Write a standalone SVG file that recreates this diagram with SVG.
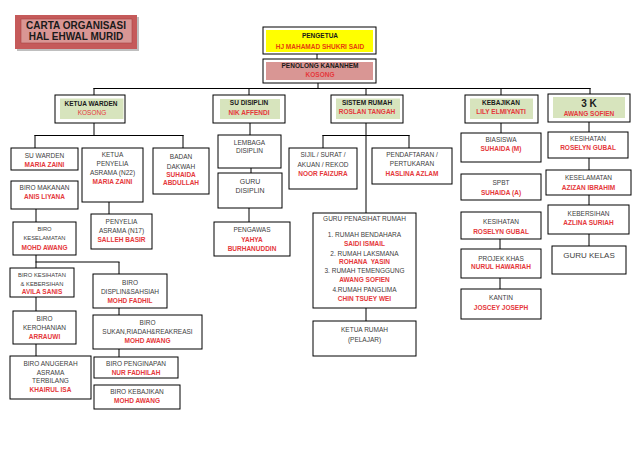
<svg xmlns="http://www.w3.org/2000/svg" width="638" height="451" viewBox="0 0 638 451">
<style>
.b{fill:#fff;stroke:#000;stroke-width:1}
.g{fill:#d7e4bd}
.t{font-family:"Liberation Sans",Arial,sans-serif;font-size:6.5px;fill:#404040;text-anchor:middle}
.s{font-size:5.8px}
.r{font-family:"Liberation Sans",Arial,sans-serif;font-size:6.5px;fill:#e5383b;font-weight:bold;text-anchor:middle}
.h{font-family:"Liberation Sans",Arial,sans-serif;font-size:6.5px;fill:#1a1a1a;font-weight:bold;text-anchor:middle}
.c line{stroke:#000;stroke-width:1}
</style>
<rect width="638" height="451" fill="#fff"/>

<g id="title">
<rect x="17" y="17" width="122" height="34" fill="#bfbfbf"/>
<rect x="15" y="15" width="122" height="34" fill="#c55a5a"/>
<rect x="21" y="19" width="111" height="24" fill="#d99694" stroke="#a84444" stroke-width="0.6"/>
<text x="76" y="28.8" class="h" style="font-size:10px">CARTA ORGANISASI</text>
<text x="76" y="39.8" class="h" style="font-size:10px">HAL EHWAL MURID</text>
</g>

<g class="c" id="connectors">
<line x1="317" y1="54" x2="317" y2="59"/>
<line x1="318" y1="83" x2="318" y2="88.5"/>
<line x1="93.5" y1="88.5" x2="590.5" y2="88.5"/>
<line x1="94" y1="88" x2="94" y2="95"/>
<line x1="249" y1="88" x2="249" y2="95"/>
<line x1="366" y1="88" x2="366" y2="95"/>
<line x1="501" y1="88" x2="501" y2="95"/>
<line x1="590" y1="88" x2="590" y2="94"/>
<line x1="94" y1="123" x2="94" y2="135.5"/>
<line x1="34.5" y1="135.5" x2="183.5" y2="135.5"/>
<line x1="35" y1="135" x2="35" y2="148"/>
<line x1="183" y1="135" x2="183" y2="148"/>
<line x1="36" y1="209" x2="36" y2="222"/>
<line x1="36" y1="255" x2="36" y2="268"/>
<line x1="35.5" y1="262" x2="119.5" y2="262"/>
<line x1="119" y1="262" x2="119" y2="274"/>
<line x1="36" y1="297" x2="36" y2="311"/>
<line x1="36" y1="344" x2="36" y2="356"/>
<line x1="119" y1="308" x2="119" y2="315"/>
<line x1="119" y1="349" x2="119" y2="357"/>
<line x1="109" y1="202" x2="109" y2="214"/>
<line x1="250" y1="123" x2="250" y2="135"/>
<line x1="251" y1="168" x2="251" y2="173"/>
<line x1="249" y1="208" x2="249" y2="222"/>
<line x1="366" y1="123" x2="366" y2="213"/>
<line x1="322.5" y1="135.5" x2="409.5" y2="135.5"/>
<line x1="323" y1="135" x2="323" y2="148"/>
<line x1="409" y1="135" x2="409" y2="148"/>
<line x1="366" y1="308" x2="366" y2="321"/>
<line x1="501" y1="123" x2="501" y2="133"/>
<line x1="500" y1="239" x2="500" y2="249"/>
<line x1="500" y1="278" x2="500" y2="289"/>
<line x1="589" y1="122" x2="589" y2="132"/>
<line x1="589" y1="158" x2="589" y2="170"/>
<line x1="589" y1="195" x2="589" y2="205"/>
<line x1="589" y1="234" x2="589" y2="246"/>
</g>

<g id="pengetua">
<rect class="b" x="263" y="27" width="113" height="27"/>
<rect x="266" y="30" width="107" height="22" fill="#ffff00"/>
<text x="320" y="37.5" class="h">PENGETUA</text>
<text x="320" y="49" class="r" style="fill:#e8400c">HJ MAHAMAD SHUKRI SAID</text>
</g>
<g id="penolong">
<rect class="b" x="263" y="59" width="113" height="24"/>
<rect x="266" y="62" width="107" height="18" fill="#d99694"/>
<text x="320" y="67.6" class="h">PENOLONG KANANHEM</text>
<text x="320" y="76.5" class="r">KOSONG</text>
</g>

<g id="ketua-warden">
<rect class="b" x="55" y="95" width="70" height="28"/>
<rect class="g" x="60" y="98.5" width="63.5" height="20.5"/>
<text x="91" y="105.6" class="h">KETUA WARDEN</text>
<text x="92" y="115" class="r" style="font-weight:normal">KOSONG</text>
</g>
<g id="su-disiplin">
<rect class="b" x="213" y="95" width="72" height="28"/>
<rect class="g" x="220" y="99" width="60" height="20"/>
<text x="249" y="105" class="h">SU DISIPLIN</text>
<text x="249" y="114.6" class="r">NIK AFFENDI</text>
</g>
<g id="sistem-rumah">
<rect class="b" x="331" y="95" width="72" height="28"/>
<rect class="g" x="336" y="98.5" width="64" height="20.5"/>
<text x="367" y="104.6" class="h">SISTEM RUMAH</text>
<text x="367" y="114" class="r">ROSLAN TANGAH</text>
</g>
<g id="kebajikan">
<rect class="b" x="465" y="95" width="73" height="28"/>
<rect class="g" x="470" y="98.5" width="63" height="20.5"/>
<text x="501" y="104.6" class="h">KEBAJIKAN</text>
<text x="501" y="114" class="r">LILY ELMIYANTI</text>
</g>
<g id="tiga-k">
<rect class="b" x="548" y="94" width="82" height="28"/>
<rect class="g" x="553" y="97" width="72" height="21"/>
<text x="589" y="107" class="h" style="font-size:10px">3 K</text>
<text x="589" y="115.6" class="r">AWANG SOFIEN</text>
</g>

<g id="su-warden">
<rect class="b" x="11" y="148" width="67" height="22"/>
<text x="44.5" y="158.3" class="t">SU WARDEN</text>
<text x="44.5" y="166.5" class="r">MARIA ZAINI</text>
</g>
<g id="biro-makanan">
<rect class="b" x="11" y="181" width="67" height="28"/>
<text x="44.5" y="189.5" class="t">BIRO MAKANAN</text>
<text x="44.5" y="198.5" class="r">ANIS LIYANA</text>
</g>
<g id="biro-keselamatan">
<rect class="b" x="13" y="222" width="63" height="33"/>
<text x="44.5" y="231" class="t s">BIRO</text>
<text x="44.5" y="240" class="t s">KESELAMATAN</text>
<text x="44.5" y="250" class="r">MOHD AWANG</text>
</g>
<g id="ketua-penyelia">
<rect class="b" x="82" y="148" width="61" height="54"/>
<text x="112.5" y="157.3" class="t">KETUA</text>
<text x="112.5" y="166.3" class="t">PENYELIA</text>
<text x="112.5" y="175.3" class="t">ASRAMA (N22)</text>
<text x="112.5" y="184.3" class="r">MARIA ZAINI</text>
</g>
<g id="penyelia">
<rect class="b" x="91" y="214" width="61" height="35"/>
<text x="121.5" y="224.3" class="t">PENYELIA</text>
<text x="121.5" y="233.3" class="t">ASRAMA (N17)</text>
<text x="121.5" y="242.3" class="r">SALLEH BASIR</text>
</g>
<g id="badan-dakwah">
<rect class="b" x="153" y="148" width="56" height="46"/>
<text x="181" y="159" class="t">BADAN</text>
<text x="181" y="168.5" class="t">DAKWAH</text>
<text x="181" y="177" class="r">SUHAIDA</text>
<text x="181" y="185" class="r">ABDULLAH</text>
</g>
<g id="biro-kesihatan">
<rect class="b" x="10" y="268" width="64" height="29"/>
<text x="42" y="277" class="t s">BIRO KESIHATAN</text>
<text x="42" y="285.5" class="t s">&amp; KEBERSIHAN</text>
<text x="42" y="293.8" class="r">AVILA SANIS</text>
</g>
<g id="biro-kerohanian">
<rect class="b" x="13" y="311" width="63" height="33"/>
<text x="44.5" y="320.5" class="t">BIRO</text>
<text x="44.5" y="329.5" class="t">KEROHANIAN</text>
<text x="44.5" y="338.5" class="r">ARRAUWI</text>
</g>
<g id="biro-anugerah">
<rect class="b" x="10" y="356" width="81" height="43"/>
<text x="50.5" y="365.5" class="t">BIRO ANUGERAH</text>
<text x="50.5" y="374.5" class="t">ASRAMA</text>
<text x="50.5" y="383" class="t">TERBILANG</text>
<text x="50.5" y="392" class="r">KHAIRUL ISA</text>
</g>
<g id="biro-displin">
<rect class="b" x="93" y="274" width="74" height="34"/>
<text x="130" y="284.5" class="t">BIRO</text>
<text x="130" y="293.5" class="t">DISPLIN&amp;SAHSIAH</text>
<text x="130" y="302.5" class="r">MOHD FADHIL</text>
</g>
<g id="biro-sukan">
<rect class="b" x="93" y="315" width="109" height="34"/>
<text x="147.5" y="324.5" class="t">BIRO</text>
<text x="147.5" y="333.5" class="t">SUKAN,RIADAH&amp;REAKREASI</text>
<text x="147.5" y="342.5" class="r">MOHD AWANG</text>
</g>
<g id="biro-penginapan">
<rect class="b" x="94" y="357" width="84" height="21"/>
<text x="136" y="366.3" class="t">BIRO PENGINAPAN</text>
<text x="136" y="374.8" class="r">NUR FADHILAH</text>
</g>
<g id="biro-kebajikan">
<rect class="b" x="94" y="385" width="86" height="24"/>
<text x="137" y="394" class="t">BIRO KEBAJIKAN</text>
<text x="137" y="403.3" class="r">MOHD AWANG</text>
</g>

<g id="lembaga-disiplin">
<rect class="b" x="218" y="135" width="63" height="33"/>
<text x="249.5" y="144.6" class="t">LEMBAGA</text>
<text x="249.5" y="153" class="t">DISIPLIN</text>
</g>
<g id="guru-disiplin">
<rect class="b" x="218" y="173" width="64" height="35"/>
<text x="250" y="184" class="t" style="font-size:7px">GURU</text>
<text x="250" y="193" class="t" style="font-size:7px">DISIPLIN</text>
</g>
<g id="pengawas">
<rect class="b" x="214" y="222" width="76" height="34"/>
<text x="252" y="231.6" class="t">PENGAWAS</text>
<text x="252" y="241.6" class="r">YAHYA</text>
<text x="252" y="250.6" class="r">BURHANUDDIN</text>
</g>

<g id="sijil">
<rect class="b" x="289" y="148" width="68" height="41"/>
<text x="323" y="157.3" class="t">SIJIL / SURAT /</text>
<text x="323" y="166.6" class="t">AKUAN / REKOD</text>
<text x="323" y="175.6" class="r">NOOR FAIZURA</text>
</g>
<g id="pendaftaran">
<rect class="b" x="372" y="148" width="80" height="36"/>
<text x="412" y="157.3" class="t">PENDAFTARAN /</text>
<text x="412" y="166.3" class="t">PERTUKARAN</text>
<text x="412" y="175.6" class="r">HASLINA AZLAM</text>
</g>
<g id="guru-penasihat">
<rect class="b" x="313" y="213" width="103" height="95"/>
<text x="364.5" y="221.3" class="t">GURU PENASIHAT RUMAH</text>
<text x="364.5" y="237.3" class="t">1. RUMAH BENDAHARA</text>
<text x="364.5" y="245.6" class="r">SAIDI ISMAIL</text>
<text x="364.5" y="255.6" class="t">2. RUMAH LAKSMANA</text>
<text x="364.5" y="264.3" class="r" style="white-space:pre">ROHANA  YASIN</text>
<text x="364.5" y="273.3" class="t">3. RUMAH TEMENGGUNG</text>
<text x="364.5" y="282.3" class="r">AWANG SOFIEN</text>
<text x="364.5" y="291.6" class="t">4.RUMAH PANGLIMA</text>
<text x="364.5" y="301" class="r">CHIN TSUEY WEI</text>
</g>
<g id="ketua-rumah">
<rect class="b" x="313" y="321" width="103" height="35"/>
<text x="364.5" y="331.6" class="t">KETUA RUMAH</text>
<text x="364.5" y="341.6" class="t">(PELAJAR)</text>
</g>

<g id="biasiswa">
<rect class="b" x="461" y="133" width="80" height="29"/>
<text x="501" y="142.3" class="t">BIASISWA</text>
<text x="501" y="151.3" class="r">SUHAIDA (M)</text>
</g>
<g id="spbt">
<rect class="b" x="461" y="174" width="80" height="26"/>
<text x="501" y="184.6" class="t">SPBT</text>
<text x="501" y="194.6" class="r">SUHAIDA (A)</text>
</g>
<g id="kesihatan-kebajikan">
<rect class="b" x="461" y="212" width="80" height="27"/>
<text x="501" y="224" class="t">KESIHATAN</text>
<text x="501" y="234" class="r">ROSELYN GUBAL</text>
</g>
<g id="projek-khas">
<rect class="b" x="461" y="249" width="80" height="29"/>
<text x="501" y="260.6" class="t">PROJEK KHAS</text>
<text x="501" y="269.2" class="r">NURUL HAWARIAH</text>
</g>
<g id="kantin">
<rect class="b" x="461" y="289" width="80" height="30"/>
<text x="501" y="300" class="t">KANTIN</text>
<text x="501" y="310" class="r">JOSCEY JOSEPH</text>
</g>

<g id="kesihatan-3k">
<rect class="b" x="548" y="132" width="80" height="26"/>
<text x="588" y="141.3" class="t">KESIHATAN</text>
<text x="588" y="150.2" class="r">ROSELYN GUBAL</text>
</g>
<g id="keselamatan">
<rect class="b" x="546" y="170" width="85" height="25"/>
<text x="588.5" y="179.6" class="t">KESELAMATAN</text>
<text x="588.5" y="189.6" class="r">AZIZAN IBRAHIM</text>
</g>
<g id="kebersihan">
<rect class="b" x="548" y="205" width="81" height="29"/>
<text x="588.5" y="216" class="t">KEBERSIHAN</text>
<text x="588.5" y="225.2" class="r">AZLINA SURIAH</text>
</g>
<g id="guru-kelas">
<rect class="b" x="552" y="246" width="74" height="28"/>
<text x="589" y="258" class="t" style="font-size:8px">GURU KELAS</text>
</g>
</svg>
